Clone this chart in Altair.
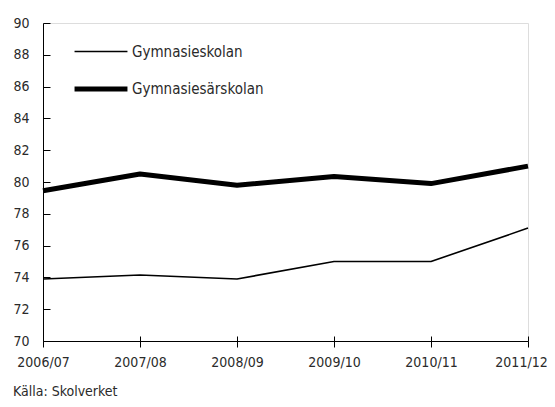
import altair as alt
import pandas as pd

years = ["2006/07", "2007/08", "2008/09", "2009/10", "2010/11", "2011/12"]
gymnasieskolan = [73.9, 74.15, 73.9, 75.0, 75.0, 77.1]
gymnasiesarskolan = [79.45, 80.5, 79.8, 80.35, 79.9, 81.0]
series = ["Gymnasieskolan", "Gymnasiesärskolan"]
y_ticks = list(range(70, 91, 2))
source_text = "Källa: Skolverket"

rows = []
for s, vals in zip(series, [gymnasieskolan, gymnasiesarskolan]):
    for yr, v in zip(years, vals):
        rows.append({"year": yr, "value": v, "series": s})
df = pd.DataFrame(rows)

FONT = "Liberation Sans Narrow, DejaVu Sans Condensed, sans-serif"
TXT = "#2a2a2a"
W, H = 485, 318

xscale = alt.Scale(type="point", padding=0, domain=years)
yscale = alt.Scale(domain=[70, 90], nice=False, zero=False)

lines = alt.Chart(df).mark_line(color="black", strokeJoin="round").encode(
    x=alt.X("year:O", sort=years, scale=xscale,
            axis=alt.Axis(title=None, labelAngle=0, tickSize=6, labelPadding=8,
                          domainColor="black", tickColor="black",
                          labelOffset=alt.condition(alt.datum.value == years[-1],
                                                    alt.value(-7), alt.value(0)),
                          labelFont=FONT, labelFontSize=14, labelColor=TXT)),
    y=alt.Y("value:Q", scale=yscale,
            axis=alt.Axis(title=None, values=y_ticks, tickSize=0, labelPadding=14,
                          grid=False, domainColor="black",
                          labelFont=FONT, labelFontSize=14, labelColor=TXT)),
    strokeWidth=alt.StrokeWidth(
        "series:N",
        scale=alt.Scale(domain=series, range=[1.6, 5]),
        legend=alt.Legend(title=None, orient="none", legendX=29, legendY=1,
                          symbolType="stroke", symbolSize=2800,
                          symbolStrokeColor="black", labelFont=FONT,
                          labelFontSize=15, labelColor=TXT, labelOffset=2,
                          rowPadding=-4, padding=0),
    ),
    detail="series:N",
)

inner_ticks = alt.Chart(df).mark_point(opacity=0).encode(
    x=alt.X("year:O", sort=years, scale=xscale,
            axis=alt.Axis(title=None, orient="top", offset=-H, labels=False,
                          domain=False, tickSize=5, tickColor="black")),
    y=alt.Y("value:Q", scale=yscale,
            axis=alt.Axis(title=None, orient="right", offset=-W, values=y_ticks,
                          labels=False, domain=False, grid=False, tickSize=7,
                          tickColor="black")),
)

chart = alt.layer(lines, inner_ticks).resolve_axis(
    x="independent", y="independent"
).properties(
    width=W,
    height=H,
    autosize=alt.AutoSizeParams(type="none"),
    padding={"left": 35, "top": 15, "right": 19, "bottom": 58},
    title=alt.TitleParams(source_text, orient="bottom", anchor="start", frame="bounds",
                          font=FONT, fontSize=14, fontWeight="normal", color=TXT,
                          offset=16),
).configure_view(stroke="black", strokeWidth=1).configure(background="white")

chart.save("out.html", embed_options={"renderer": "svg", "actions": False})
